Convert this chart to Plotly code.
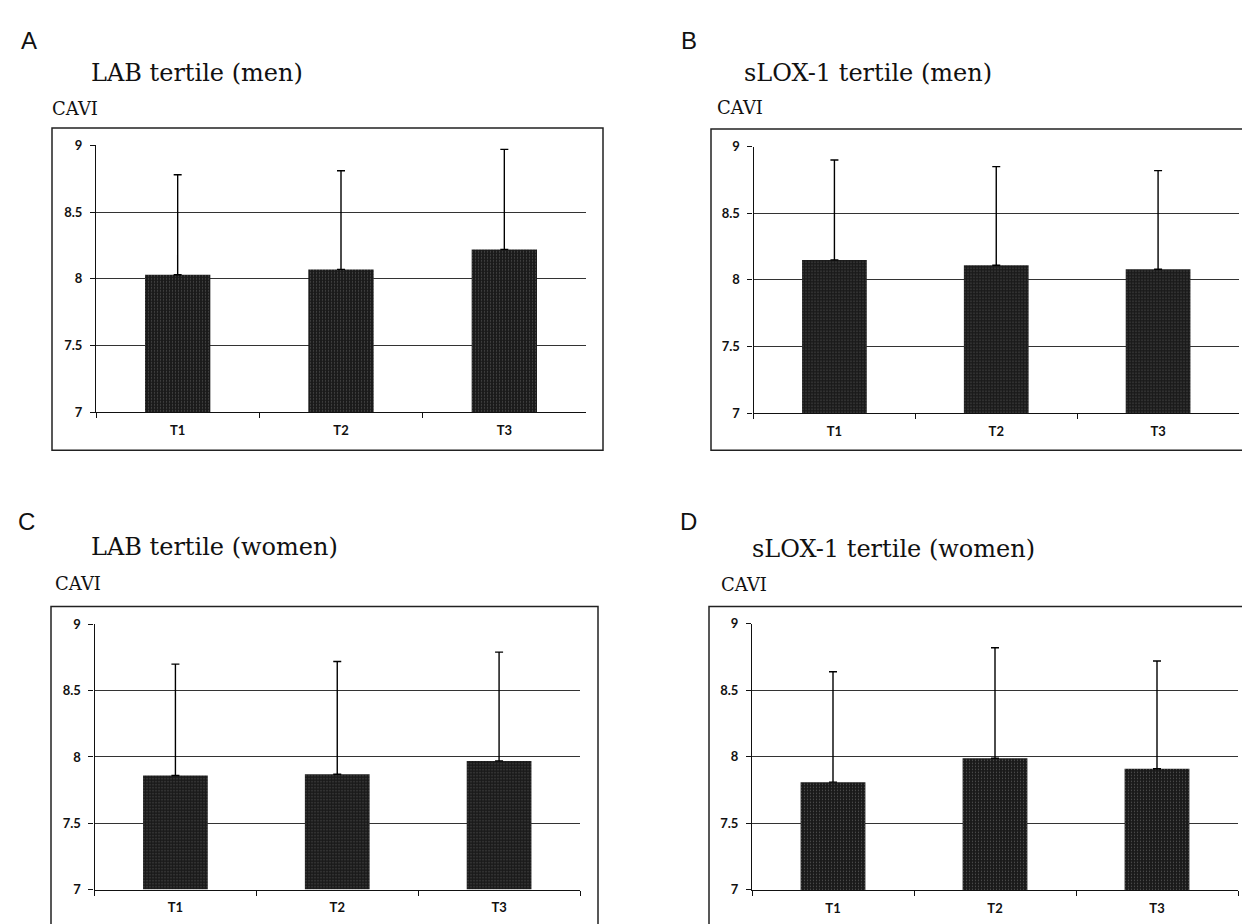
import plotly.graph_objects as go

W, H = 1250, 924

categories = ["T1", "T2", "T3"]

# Panel A: LAB tertile (men)
a_mean = [8.03, 8.07, 8.22]
a_sd = [0.75, 0.74, 0.75]
# Panel B: sLOX-1 tertile (men)
b_mean = [8.15, 8.11, 8.08]
b_sd = [0.75, 0.74, 0.74]
# Panel C: LAB tertile (women)
c_mean = [7.86, 7.87, 7.97]
c_sd = [0.84, 0.85, 0.82]
# Panel D: sLOX-1 tertile (women)
d_mean = [7.81, 7.99, 7.91]
d_sd = [0.83, 0.83, 0.81]

y_tickvals = [7, 7.5, 8, 8.5, 9]
y_ticktext = ["7", "7.5", "8", "8.5", "9"]

panel_letters = ["A", "B", "C", "D"]
panel_titles = ["LAB tertile (men)", "sLOX-1 tertile (men)",
                "LAB tertile (women)", "sLOX-1 tertile (women)"]
y_label = "CAVI"


def fx(p):
    return p / W


def fy(p):
    return 1 - p / H


# layout geometry in pixels
panels = [
    dict(mean=a_mean, sd=a_sd, plot=(88, 578, 131.7, 403), box=(44, 595, 114, 442),
         letter=(11, 25), title=(81, 57.5), cavi=(42, 94)),
    dict(mean=b_mean, sd=b_sd, plot=(745.5, 1231, 133, 404), box=(703, 1248, 115, 442),
         letter=(671, 25), title=(734, 57.5), cavi=(707, 93)),
    dict(mean=c_mean, sd=c_sd, plot=(86.5, 572, 619, 889), box=(43, 590, 601, 960),
         letter=(8, 514), title=(81, 540), cavi=(45, 577.5)),
    dict(mean=d_mean, sd=d_sd, plot=(744, 1230, 618.5, 889.3), box=(701, 1247, 601, 960),
         letter=(670, 514), title=(742, 542), cavi=(711, 579)),
]

fig = go.Figure()
layout = dict(
    width=W, height=H, margin=dict(l=0, r=0, t=0, b=0),
    paper_bgcolor="white", plot_bgcolor="white", showlegend=False,
    bargap=0.6,
)
annotations = []
shapes = []

tickfont = dict(family="Lato", size=13, color="#111", weight="bold")

for i, p in enumerate(panels):
    n = "" if i == 0 else str(i + 1)
    fig.add_trace(go.Bar(
        x=categories, y=[m - 7 for m in p["mean"]], base=7,
        xaxis="x" + n, yaxis="y" + n,
        marker=dict(color="#1c1c1c", line=dict(width=0),
                    pattern=dict(shape=".", size=3, solidity=0.14,
                                 fgcolor="#8c8c8c", bgcolor="#1a1a1a")),
        error_y=dict(type="data", array=p["sd"], arrayminus=[0, 0, 0], symmetric=False,
                     color="black", thickness=1.4, width=4),
        hoverinfo="skip",
    ))
    x0, x1, y0, y1 = p["plot"]
    layout["xaxis" + n] = dict(
        domain=[fx(x0), fx(x1)], anchor="y" + n,
        showline=True, linecolor="#111", linewidth=1.2,
        ticks="outside", ticklen=5, tickwidth=1, tickcolor="#111",
        tickson="boundaries", tickfont=tickfont, ticklabelstandoff=6,
        showgrid=False, fixedrange=True,
    )
    layout["yaxis" + n] = dict(
        domain=[fy(y1), fy(y0)], anchor="x" + n, range=[7, 9],
        tickvals=y_tickvals, ticktext=y_ticktext,
        showline=True, linecolor="#111", linewidth=1.2,
        ticks="outside", ticklen=5, tickwidth=1, tickcolor="#111",
        showgrid=True, gridcolor="#333333", gridwidth=1.2,
        zeroline=False, tickfont=tickfont, ticklabelstandoff=5,
        fixedrange=True,
    )
    bx0, bx1, by0, by1 = p["box"]
    shapes.append(dict(type="rect", xref="paper", yref="paper",
                       x0=fx(bx0), x1=fx(bx1), y0=fy(by1), y1=fy(by0),
                       line=dict(color="#222", width=1.5), fillcolor="rgba(0,0,0,0)",
                       layer="below"))
    lx, ly = p["letter"]
    annotations.append(dict(text=panel_letters[i], x=fx(lx), y=fy(ly), xref="paper", yref="paper",
                            xanchor="left", yanchor="middle", showarrow=False,
                            font=dict(family="Liberation Sans", size=24, color="#111")))
    tx, ty = p["title"]
    annotations.append(dict(text=panel_titles[i], x=fx(tx), y=fy(ty), xref="paper", yref="paper",
                            xanchor="left", yanchor="middle", showarrow=False,
                            font=dict(family="DejaVu Serif", size=24, color="#111")))
    cx, cy = p["cavi"]
    annotations.append(dict(text=y_label, x=fx(cx), y=fy(cy), xref="paper", yref="paper",
                            xanchor="left", yanchor="middle", showarrow=False,
                            font=dict(family="DejaVu Serif", size=18, color="#111")))

layout["annotations"] = annotations
layout["shapes"] = shapes
fig.update_layout(**layout)
fig.write_html("out.html")
